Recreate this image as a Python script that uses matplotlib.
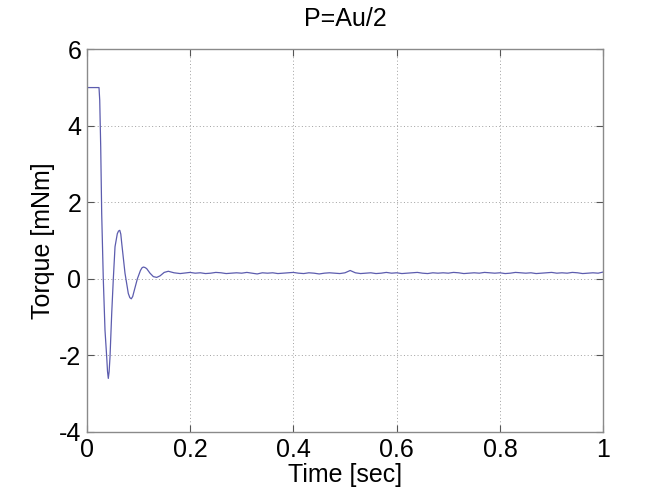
import numpy as np
import matplotlib
matplotlib.use('Agg')
import matplotlib.pyplot as plt

# torque response
t_transient = [0.0, 0.0238, 0.0252, 0.0271, 0.0290, 0.0321, 0.0354, 0.0387,
               0.0403, 0.0418, 0.0434, 0.0451, 0.0484, 0.0515, 0.0548, 0.0592,
               0.0615, 0.0640, 0.0660, 0.0678, 0.0741, 0.0805, 0.0835, 0.0863,
               0.0890, 0.0921, 0.098, 0.104, 0.107, 0.1096, 0.1125, 0.116,
               0.1225, 0.129, 0.1355, 0.142, 0.150, 0.158, 0.169, 0.181]
torque_transient = [5.0, 5.0, 4.67, 3.45, 1.71, 0.0, -1.34, -2.04,
                    -2.42, -2.6, -2.42, -2.04, -0.9, 0.0, 0.84, 1.18,
                    1.25, 1.27, 1.17, 0.93, 0.15, -0.38, -0.49, -0.52,
                    -0.46, -0.3, 0.0, 0.22, 0.29, 0.31, 0.30, 0.27,
                    0.15, 0.06, 0.04, 0.08, 0.17, 0.2, 0.16, 0.14]

# steady part, one reading every 10 ms from 0.20 s to 1.00 s
t_steady = np.round(np.arange(0.20, 1.0001, 0.01), 2)
torque_steady = [0.17, 0.15, 0.16, 0.14, 0.15, 0.17, 0.16, 0.14, 0.15, 0.16,
                 0.15, 0.17, 0.15, 0.13, 0.16, 0.15, 0.16, 0.14, 0.15, 0.16,
                 0.17, 0.15, 0.14, 0.16, 0.15, 0.13, 0.15, 0.16, 0.15, 0.14,
                 0.16, 0.22, 0.16, 0.14, 0.15, 0.16, 0.14, 0.15, 0.17, 0.15,
                 0.16, 0.14, 0.15, 0.16, 0.17, 0.15, 0.14, 0.16, 0.15, 0.16,
                 0.15, 0.17, 0.16, 0.14, 0.15, 0.16, 0.15, 0.17, 0.16, 0.15,
                 0.16, 0.14, 0.15, 0.17, 0.16, 0.15, 0.16, 0.14, 0.15, 0.16,
                 0.17, 0.15, 0.16, 0.15, 0.17, 0.16, 0.14, 0.15, 0.16, 0.15,
                 0.18]

x_ticks = [0, 0.2, 0.4, 0.6, 0.8, 1]
x_labels = ['0', '0.2', '0.4', '0.6', '0.8', '1']
y_ticks = [-4, -2, 0, 2, 4, 6]

time = np.concatenate([t_transient, t_steady])
torque = np.concatenate([torque_transient, torque_steady])

plt.rcParams['font.family'] = 'Liberation Sans'
plt.rcParams['axes.unicode_minus'] = False

fig = plt.figure(figsize=(6.67, 4.97), dpi=100)
ax = fig.add_axes([0.13, 0.1308, 0.7745, 0.770])

ax.plot(time, torque, color='#5c5cae', linewidth=0.9)

ax.set_xlim(0, 1)
ax.set_ylim(-4, 6)
ax.set_xticks(x_ticks, x_labels)
ax.set_yticks(y_ticks)

ax.grid(True, color='#a0a0a0', linestyle=(0, (1, 2.5)), linewidth=0.7)
for side in ax.spines.values():
    side.set_color('#8a8a8a')
    side.set_linewidth(1.0)

ax.tick_params(direction='in', top=True, right=True, length=5,
               color='#555555', labelsize=18, pad=4)

ax.set_title('P=Au/2', fontsize=18, pad=17)
ax.set_xlabel('Time [sec]', fontsize=18, labelpad=1)
ax.set_ylabel('Torque [mNm]', fontsize=18, labelpad=3)

fig.savefig('out.png', dpi=100)
